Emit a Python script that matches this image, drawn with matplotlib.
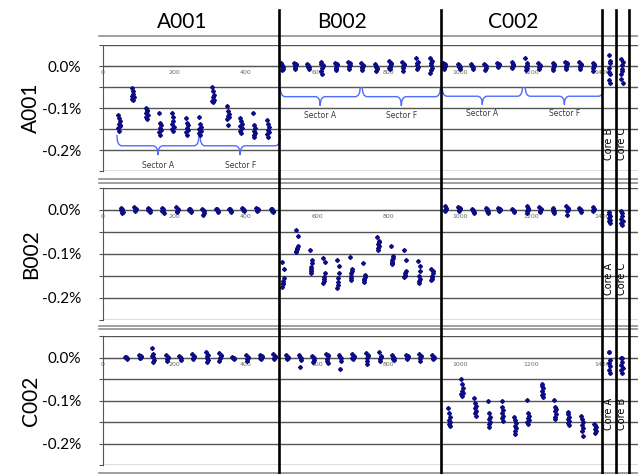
import matplotlib
matplotlib.use('Agg')
import matplotlib.pyplot as plt
import matplotlib.transforms as mtransforms
from matplotlib.lines import Line2D
from matplotlib.path import Path
from matplotlib.patches import PathPatch

# ---- data -------------------------------------------------------------
col_names = ['A001', 'B002', 'C002']
row_names = ['A001', 'B002', 'C002']
title_x = [222, 671, 1150]
col_edges = [494, 948, 1400, 1437, 1476]
x_ticks = [0, 200, 400, 600, 800, 1000, 1200, 1400]
y_ticks = [0.05, 0.0, -0.05, -0.10, -0.15, -0.20, -0.25]
y_ticklabels = ['', '0.0%', '', '-0.1%', '', '-0.2%', '']

# row A001: cluster centres (sample index) and samples (% diff)
a001_x = [45, 84, 123, 160, 196, 236, 272, 309, 351, 387, 424, 463,
          502, 539, 575, 614, 654, 690, 727, 766, 805, 842, 881, 920,
          957, 999, 1035, 1072, 1108, 1148, 1187, 1223, 1263, 1299, 1338, 1375]
a001_y = [
    [-0.117, -0.132, -0.125, -0.142, -0.138, -0.155, -0.148, -0.140],
    [-0.052, -0.066, -0.060, -0.074, -0.071, -0.081, -0.078],
    [-0.100, -0.108, -0.104, -0.116, -0.112, -0.126, -0.121],
    [-0.112, -0.140, -0.135, -0.152, -0.147, -0.164, -0.158],
    [-0.112, -0.130, -0.122, -0.146, -0.138, -0.155, -0.150],
    [-0.124, -0.141, -0.135, -0.152, -0.148, -0.164, -0.158],
    [-0.121, -0.145, -0.138, -0.155, -0.150, -0.164, -0.160],
    [-0.050, -0.070, -0.060, -0.080, -0.075, -0.086, -0.084],
    [-0.095, -0.114, -0.108, -0.122, -0.118, -0.140, -0.126],
    [-0.124, -0.138, -0.132, -0.148, -0.143, -0.160, -0.154],
    [-0.112, -0.148, -0.140, -0.160, -0.155, -0.169, -0.165],
    [-0.129, -0.146, -0.138, -0.158, -0.152, -0.169, -0.163],
    [0.006, -0.002, 0.003, -0.006, 0.001, -0.009, 0.004],
    [0.007, 0.002, -0.004, 0.005, -0.008, -0.001, 0.003],
    [0.004, -0.003, 0.001, -0.006, 0.002, -0.002],
    [0.009, 0.003, -0.005, 0.001, -0.012, -0.018, 0.005],
    [0.008, 0.002, -0.004, 0.005, -0.009, 0.000, -0.006],
    [0.010, 0.003, -0.003, 0.006, -0.008, 0.001],
    [0.006, 0.000, -0.005, 0.003, -0.010, -0.002],
    [0.004, -0.004, 0.001, -0.008, -0.013, -0.002],
    [0.012, 0.004, -0.002, 0.007, -0.007, 0.001, -0.004],
    [0.009, 0.002, -0.004, 0.005, -0.012, -0.001],
    [0.018, 0.010, 0.003, -0.002, 0.006, -0.008],
    [0.020, 0.011, 0.003, -0.004, 0.006, -0.010, -0.017],
    [0.007, 0.001, -0.004, 0.004, -0.008, 0.000],
    [0.005, -0.002, 0.002, -0.006, 0.000, -0.003],
    [0.004, -0.003, 0.001, -0.007, -0.001],
    [0.005, -0.001, 0.002, -0.005, -0.010],
    [0.008, 0.002, -0.003, 0.004, -0.001],
    [0.009, 0.003, -0.004, 0.005, -0.002, 0.001],
    [0.019, 0.006, -0.002, 0.003, -0.009, -0.005],
    [0.006, 0.000, -0.006, 0.003, -0.002],
    [0.008, 0.002, -0.004, 0.004, -0.009, -0.001],
    [0.010, 0.004, -0.002, 0.006, -0.007, 0.000],
    [0.009, 0.003, -0.003, 0.005, -0.008, -0.001],
    [0.008, 0.002, -0.004, 0.004, -0.011, -0.001],
]
a001_core_names = ['Core B', 'Core C']
a001_core_x = [1420, 1455]
a001_core_y = [
    [0.026, 0.007, -0.005, 0.012, -0.014, -0.020, -0.033, -0.040],
    [0.017, 0.002, -0.008, 0.010, -0.019, -0.012, -0.030, -0.040],
]

# row B002
b002_x = [53, 90, 129, 168, 208, 244, 281, 320, 356, 393, 432, 474,
          505, 544, 584, 620, 659, 696, 732, 772, 811, 847, 887, 923,
          960, 999, 1038, 1077, 1111, 1150, 1190, 1226, 1263, 1302, 1338, 1375]
b002_y = [
    [0.004, -0.002, 0.002, -0.005, 0.000, -0.008],
    [0.006, 0.001, -0.003, 0.003, -0.001],
    [0.005, -0.001, 0.002, -0.004, 0.000],
    [0.004, -0.003, 0.001, -0.006, -0.002],
    [0.006, 0.000, -0.004, 0.002, -0.002],
    [0.003, -0.002, 0.001, -0.005, 0.000],
    [0.002, -0.003, 0.000, -0.006, -0.011],
    [0.003, -0.002, 0.001, -0.005, 0.000],
    [0.003, -0.002, 0.001, -0.004],
    [0.004, -0.001, 0.002, -0.003, 0.000],
    [0.005, 0.000, -0.003, 0.002, -0.001],
    [0.003, -0.002, 0.001, -0.005, -0.003],
    [-0.119, -0.135, -0.162, -0.155, -0.170, -0.166, -0.176],
    [-0.046, -0.060, -0.086, -0.082, -0.093, -0.090, -0.096],
    [-0.092, -0.115, -0.130, -0.122, -0.140, -0.135, -0.144],
    [-0.110, -0.118, -0.152, -0.145, -0.162, -0.158, -0.167],
    [-0.114, -0.128, -0.155, -0.145, -0.172, -0.165, -0.178],
    [-0.107, -0.135, -0.145, -0.140, -0.155, -0.150, -0.160],
    [-0.121, -0.148, -0.157, -0.152, -0.164, -0.160],
    [-0.062, -0.070, -0.078, -0.074, -0.088, -0.083, -0.091],
    [-0.082, -0.105, -0.114, -0.110, -0.121, -0.118, -0.123],
    [-0.091, -0.115, -0.145, -0.140, -0.151, -0.148, -0.153],
    [-0.116, -0.128, -0.150, -0.140, -0.163, -0.158, -0.167],
    [-0.135, -0.140, -0.150, -0.145, -0.157, -0.154, -0.160],
    [0.008, 0.003, -0.002, 0.005, 0.000],
    [0.007, 0.001, -0.003, 0.004, -0.001],
    [0.002, -0.004, -0.001, -0.007, -0.003],
    [0.005, -0.002, 0.001, -0.008, -0.003],
    [0.005, 0.000, -0.003, 0.002, -0.001],
    [0.003, -0.002, 0.000, -0.004],
    [0.010, 0.004, -0.003, 0.002, -0.006, 0.000],
    [0.006, 0.001, -0.004, 0.003, -0.002],
    [0.004, -0.002, 0.001, -0.006, -0.003],
    [0.008, 0.003, -0.002, 0.004, -0.012, 0.000],
    [0.005, -0.001, 0.002, -0.004, 0.000],
    [0.006, 0.001, -0.003, 0.003, -0.001],
]
b002_core_names = ['Core A', 'Core C']
b002_core_x = [1420, 1455]
b002_core_y = [
    [-0.005, -0.015, -0.010, -0.022, -0.018, -0.030, -0.026],
    [-0.002, -0.014, -0.008, -0.025, -0.020, -0.034, -0.030],
]

# row C002
c002_x = [65, 104, 140, 180, 216, 253, 292, 328, 365, 404, 443, 480,
          516, 553, 589, 629, 665, 701, 741, 777, 814, 853, 889, 926,
          971, 1007, 1044, 1083, 1120, 1156, 1192, 1232, 1268, 1305, 1344, 1380]
c002_y = [
    [0.002, -0.001, 0.001, -0.003],
    [0.006, 0.002, -0.002, 0.004, 0.000],
    [0.022, 0.008, 0.001, -0.005, 0.004, -0.010],
    [0.006, 0.000, -0.004, 0.002, -0.008],
    [0.004, -0.002, 0.001, -0.006],
    [0.008, 0.002, -0.003, 0.004, -0.001],
    [0.012, 0.006, 0.000, -0.006, 0.003, -0.011],
    [0.010, 0.004, -0.002, 0.005, -0.008, 0.000],
    [0.002, -0.002, 0.000, -0.004],
    [0.005, 0.000, -0.004, 0.002, -0.009],
    [0.006, 0.001, -0.004, 0.003, -0.001],
    [0.008, 0.002, -0.003, 0.004, -0.001],
    [0.005, 0.000, -0.003, 0.002, -0.001],
    [0.005, -0.002, 0.001, -0.006, -0.022],
    [0.004, -0.001, 0.002, -0.006, -0.010],
    [0.009, 0.003, -0.003, 0.005, -0.008, -0.012],
    [0.005, -0.001, 0.001, -0.008, -0.027],
    [0.008, 0.002, -0.003, 0.004, -0.001],
    [0.010, 0.004, -0.002, 0.005, -0.009, -0.014],
    [0.013, 0.003, -0.003, 0.001, -0.008],
    [0.005, -0.001, 0.001, -0.006, -0.003],
    [0.006, 0.001, -0.003, 0.003, -0.001],
    [0.009, 0.003, -0.002, 0.004, -0.008, 0.000],
    [0.005, 0.000, -0.004, 0.002, -0.002],
    [-0.117, -0.138, -0.128, -0.150, -0.145, -0.159, -0.155],
    [-0.050, -0.072, -0.062, -0.082, -0.078, -0.089, -0.086],
    [-0.094, -0.112, -0.105, -0.125, -0.118, -0.136, -0.130],
    [-0.100, -0.138, -0.130, -0.150, -0.144, -0.161, -0.155],
    [-0.100, -0.122, -0.115, -0.135, -0.128, -0.147, -0.140],
    [-0.138, -0.152, -0.145, -0.165, -0.160, -0.177, -0.171],
    [-0.098, -0.135, -0.128, -0.145, -0.140, -0.154, -0.150],
    [-0.061, -0.072, -0.066, -0.084, -0.078, -0.092, -0.088],
    [-0.098, -0.120, -0.115, -0.132, -0.125, -0.143, -0.138],
    [-0.126, -0.138, -0.132, -0.148, -0.143, -0.156, -0.152],
    [-0.135, -0.150, -0.142, -0.165, -0.158, -0.182, -0.172],
    [-0.154, -0.162, -0.158, -0.170, -0.166, -0.175],
]
c002_core_names = ['Core A', 'Core B']
c002_core_x = [1420, 1455]
c002_core_y = [
    [0.013, -0.005, 0.012, -0.020, -0.012, -0.036, -0.030],
    [0.000, -0.010, -0.002, -0.025, -0.018, -0.036, -0.030],
]

# sector braces in the top row: (start, end, label)
sector_spans = [(39, 269, 'Sector A'), (272, 497, 'Sector F'),
                (497, 721, 'Sector A'), (727, 946, 'Sector F'),
                (951, 1176, 'Sector A'), (1184, 1403, 'Sector F')]
sector_levels = [(-0.164, -0.190, -0.212, -0.236),   # A001 column
                 (-0.050, -0.073, -0.095, -0.118),   # B002 column
                 (-0.050, -0.072, -0.092, -0.114)]   # C002 column
core_label_y = [-0.185, -0.158, -0.131]

rows_x = [a001_x, b002_x, c002_x]
rows_y = [a001_y, b002_y, c002_y]
rows_core_x = [a001_core_x, b002_core_x, c002_core_x]
rows_core_y = [a001_core_y, b002_core_y, c002_core_y]
rows_core_names = [a001_core_names, b002_core_names, c002_core_names]

# ---- style ------------------------------------------------------------
plt.rcParams['font.family'] = ['Lato', 'DejaVu Sans']
navy = '#0c0c84'
grid_c = '#555555'
outer_c = '#8f8f8f'
brace_c = '#4f6cff'
W, H = 638, 474
jitter = [-2.5, 1.5, -0.5, 2.5, -1.5, 0.5, -2.0, 2.0]  # spread inside a cluster


def draw_brace(ax, x0, x1, y_top, y_bar, y_tip):
    xm = (x0 + x1) / 2
    r = 14
    verts = [(x0, y_top), (x0, y_bar), (x0 + r, y_bar),
             (xm - r, y_bar), (xm, y_bar), (xm, y_tip),
             (xm, y_bar), (xm + r, y_bar),
             (x1 - r, y_bar), (x1, y_bar), (x1, y_top)]
    codes = [Path.MOVETO, Path.CURVE3, Path.CURVE3,
             Path.LINETO, Path.CURVE3, Path.CURVE3,
             Path.CURVE3, Path.CURVE3,
             Path.LINETO, Path.CURVE3, Path.CURVE3]
    ax.add_patch(PathPatch(Path(verts, codes), fill=False, ec=brace_c, lw=1.0))


fig = plt.figure(figsize=(W / 100, H / 100), dpi=100)
panels = [(45, 171), (188, 319.5), (336, 465)]
axes = []
for r, (top, bot) in enumerate(panels):
    ax = fig.add_axes([103 / W, 1 - bot / H, (W - 103) / W, (bot - top) / H])
    ax.set_xlim(0, 1500)
    ax.set_ylim(-0.25, 0.05)
    for s in ['top', 'right']:
        ax.spines[s].set_visible(False)
    ax.spines['left'].set_color(grid_c)
    ax.spines['bottom'].set_position(('data', 0))
    ax.spines['bottom'].set_color(grid_c)
    ax.set_yticks(y_ticks)
    ax.set_yticklabels(y_ticklabels, fontsize=11)
    ax.tick_params(axis='y', length=3, color=grid_c, pad=13)
    ax.set_xticks(x_ticks)
    ax.set_xticklabels([str(t) for t in x_ticks], fontsize=4.5, color='#6a6a6a',
                       family='DejaVu Sans')
    ax.tick_params(axis='x', length=0, pad=3)
    ax.grid(axis='y', color=grid_c, lw=1.0)
    ax.set_axisbelow(True)

    # measurement clusters
    for cx, ys in zip(rows_x[r] + rows_core_x[r], rows_y[r] + rows_core_y[r]):
        xs = [cx + jitter[i % len(jitter)] for i in range(len(ys))]
        ax.plot(xs, ys, ls='none', marker='D', ms=2.0, color=navy, mec=navy, zorder=3)

    # core labels
    for cx, name in zip([1418, 1456], rows_core_names[r]):
        ax.text(cx, core_label_y[r], name, rotation=90, ha='center', va='center',
                fontsize=7, family='DejaVu Sans')

    # row label
    tr = mtransforms.blended_transform_factory(fig.transFigure, ax.transData)
    ax.text(31 / W, -0.1, row_names[r], transform=tr, rotation=90, ha='center',
            va='center', fontsize=15)
    axes.append(ax)

# braces only in top row
ax1 = axes[0]
for i, (x0, x1, lab) in enumerate(sector_spans):
    y_top, y_bar, y_tip, y_txt = sector_levels[i // 2]
    draw_brace(ax1, x0, x1, y_top, y_bar, y_tip)
    ax1.text((x0 + x1) / 2, y_txt, lab, ha='center', va='center', fontsize=5.5,
             color='#3a3a3a', family='DejaVu Sans')

# column titles
tr_top = mtransforms.blended_transform_factory(ax1.transData, fig.transFigure)
for x, name in zip(title_x, col_names):
    fig.text(x, 1 - 22 / H, name, transform=tr_top, ha='center', va='center', fontsize=15)

# outer frame lines of the stacked charts
for py in [35.5, 179, 182.5, 325.5, 329, 472.5]:
    fig.add_artist(Line2D([99 / W, 1], [1 - py / H, 1 - py / H], color=outer_c, lw=1.2))

# thick column separators
for x in col_edges:
    fig.add_artist(Line2D([x, x], [1 - 10 / H, 0], transform=tr_top, color='black', lw=1.9))

fig.savefig('out.png', dpi=100)
